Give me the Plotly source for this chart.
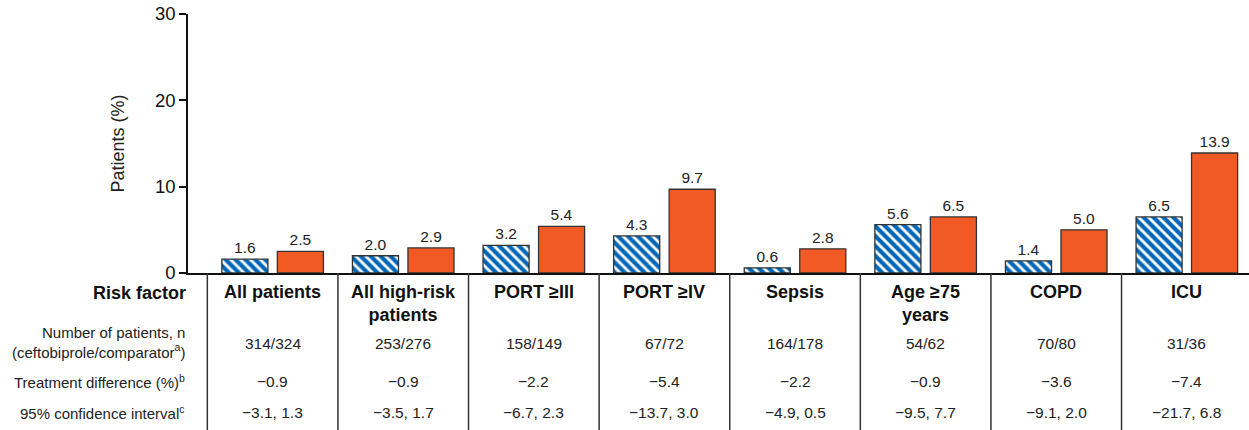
import plotly.graph_objects as go

categories = ["All patients", "All high-risk<br>patients", "PORT ≥III", "PORT ≥IV",
              "Sepsis", "Age ≥75<br>years", "COPD", "ICU"]
ceftobiprole = [1.6, 2.0, 3.2, 4.3, 0.6, 5.6, 1.4, 6.5]
comparator = [2.5, 2.9, 5.4, 9.7, 2.8, 6.5, 5.0, 13.9]
n_patients = ["314/324", "253/276", "158/149", "67/72", "164/178", "54/62", "70/80", "31/36"]
treat_diff = ["−0.9", "−0.9", "−2.2", "−5.4", "−2.2", "−0.9", "−3.6", "−7.4"]
conf_int = ["−3.1, 1.3", "−3.5, 1.7", "−6.7, 2.3", "−13.7, 3.0", "−4.9, 0.5",
            "−9.5, 7.7", "−9.1, 2.0", "−21.7, 6.8"]
row_labels = ["<b>Risk factor</b>",
              "Number of patients, n<br>(ceftobiprole/comparator<sup>a</sup>)",
              "Treatment difference (%)<sup>b</sup>",
              "95% confidence interval<sup>c</sup>"]
y_ticks = [0, 10, 20, 30]

FONT = "Liberation Sans, Arial, sans-serif"
BLUE = "#0066b8"
ORANGE = "#f15a24"

x = list(range(len(categories)))
TOP, BOTTOM, H = 14, 273, 430
plot_h = BOTTOM - TOP


def py(pix):
    return 1 - (pix - TOP) / plot_h


fig = go.Figure()
fig.add_bar(x=x, y=ceftobiprole, name="Ceftobiprole",
            marker=dict(color="white", line=dict(color="#333333", width=1.3),
                        pattern=dict(shape="\\", fgcolor=BLUE, bgcolor="white",
                                     size=7, solidity=0.6, fgopacity=1)),
            text=[f"{v:.1f}" for v in ceftobiprole], textposition="outside",
            textfont=dict(size=15.5, color="#222222", family=FONT), cliponaxis=False)
fig.add_bar(x=x, y=comparator, name="Comparator",
            marker=dict(color=ORANGE, line=dict(color="#333333", width=1.3)),
            text=[f"{v:.1f}" for v in comparator], textposition="outside",
            textfont=dict(size=15.5, color="#222222", family=FONT), cliponaxis=False)

ann = []
ann.append(dict(x=0, y=py(293), xref="paper", yref="paper", text=row_labels[0],
                showarrow=False, xanchor="right", yanchor="middle", xshift=0,
                font=dict(size=18, family=FONT, color="#111111")))
for txt, pix in zip(row_labels[1:], [342, 381, 412]):
    ann.append(dict(x=0, y=py(pix), xref="paper", yref="paper", text=txt,
                    showarrow=False, xanchor="right", yanchor="middle", align="right",
                    xshift=-1, font=dict(size=15, family=FONT, color="#222222")))

for i, c in enumerate(categories):
    ann.append(dict(x=i, y=py(280), xref="x", yref="paper", text=f"<b>{c}</b>",
                    showarrow=False, xanchor="center", yanchor="top",
                    font=dict(size=18, family=FONT, color="#111111")))
    for vals, pix in [(n_patients, 343), (treat_diff, 381), (conf_int, 412)]:
        ann.append(dict(x=i, y=py(pix), xref="x", yref="paper", text=vals[i],
                        showarrow=False, xanchor="center", yanchor="middle",
                        font=dict(size=15.5, family=FONT, color="#222222")))

shapes = []
for i in range(len(categories) + 1):
    shapes.append(dict(type="line", xref="x", yref="paper", x0=i - 0.5, x1=i - 0.5,
                       y0=0, y1=py(H + 2), line=dict(color="#333333", width=1.5)))

fig.update_layout(
    width=1249, height=430,
    margin=dict(l=188, r=0, t=TOP, b=H - BOTTOM),
    paper_bgcolor="white", plot_bgcolor="white",
    barmode="group", bargap=0.15, bargroupgap=0.17,
    showlegend=False,
    font=dict(family=FONT, color="#222222"),
    annotations=ann, shapes=shapes,
    xaxis=dict(range=[-0.648, 7.476], showticklabels=False, ticks="", showgrid=False,
               zeroline=False, showline=True, linecolor="#111111", linewidth=1.5),
    yaxis=dict(range=[0, 30], tickvals=y_ticks, ticks="outside", ticklen=7,
               tickwidth=1.5, tickcolor="#111111", showgrid=False, zeroline=False,
               showline=True, linecolor="#111111", linewidth=1.5,
               tickfont=dict(size=18.5, family=FONT, color="#111111"),
               title=dict(text="Patients (%)", font=dict(size=18, family=FONT,
                                                          color="#222222"),
                          standoff=26)),
)

fig.write_html("out.html", config={"displayModeBar": False},
               post_script="document.body.style.margin='0';document.body.style.padding='0';")
